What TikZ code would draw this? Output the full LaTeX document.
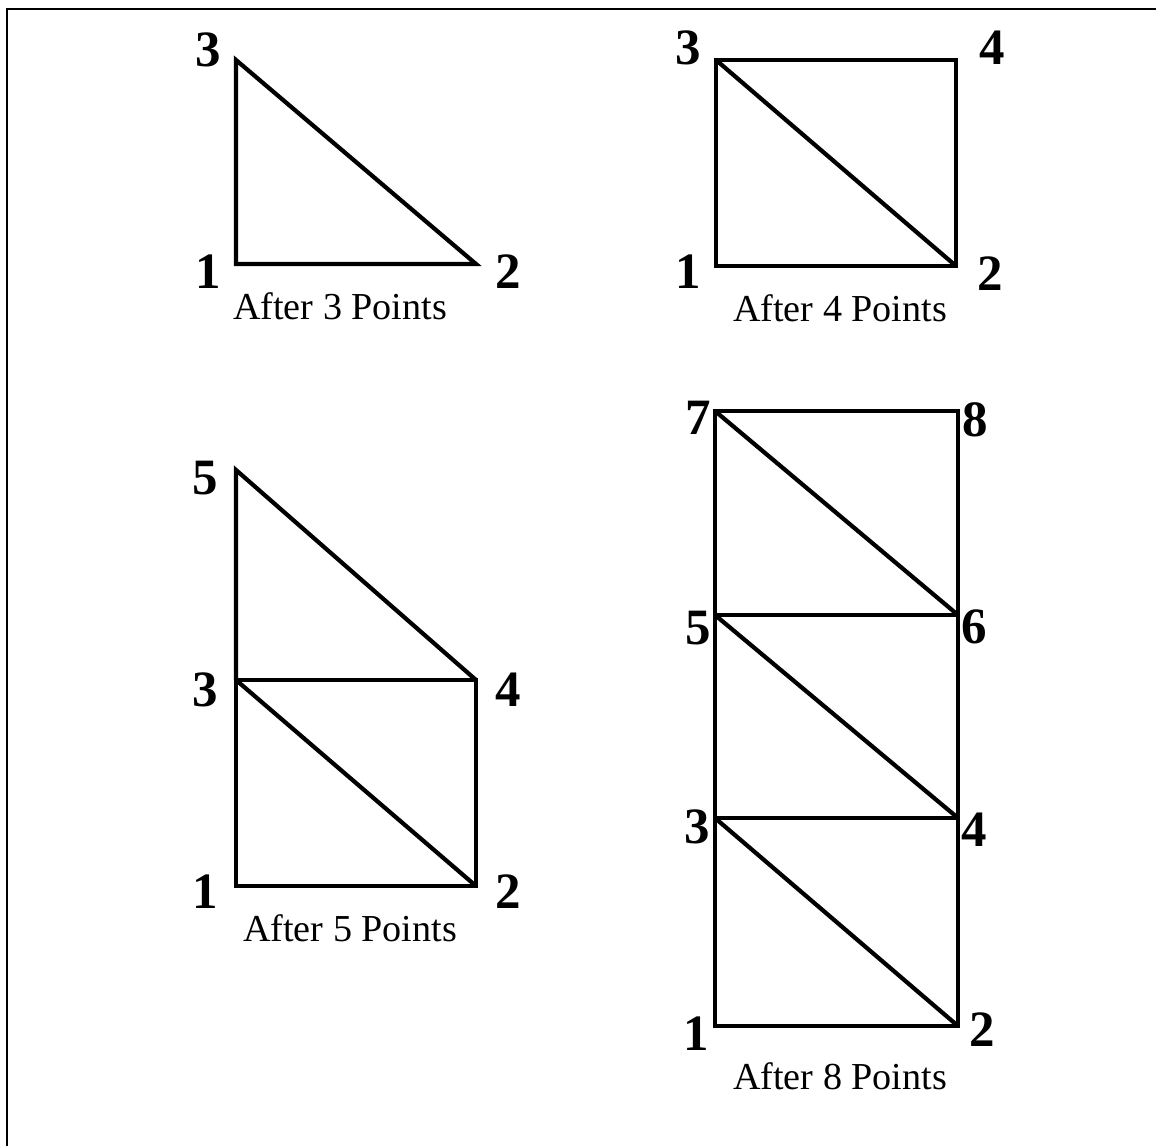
\documentclass[tikz,border=0pt]{standalone}
\usepackage{fontspec}
\setmainfont{Liberation Serif}
\usetikzlibrary{positioning}

\tikzset{
  edge/.style={line width=2.4pt, line join=miter},
  num/.style={font=\fontsize{29}{29}\selectfont\bfseries, inner sep=1pt},
  caption/.style={font=\fontsize{21.7}{22}\selectfont, inner sep=1pt}
}

\begin{document}
\begin{tikzpicture}[x=0.02cm, y=-0.02cm]
  \useasboundingbox (0,0) rectangle (1156,1146);
  % frame
  \coordinate (fl) at (7,1146);
  \coordinate (fc) at (7,9);
  \coordinate (fr) at (1156,9);
  \draw[line width=1.3pt] (fl) -- (fc) -- (fr);

  % after 3 points
  \coordinate (a1) at (236,264);
  \coordinate (a2) at (476,264);
  \coordinate (a3) at (236,60);
  \draw[edge] (a1) -- (a2) -- (a3) -- cycle;
  \node[num] (la1) at (208,272) {1};
  \node[num] (la2) at (508,272) {2};
  \node[num] (la3) at (208,50) {3};
  \node[caption] (ca) at (340,306) {After 3 Points};

  % after 4 points
  \coordinate (b1) at (716,266);
  \coordinate (b2) at (956,266);
  \coordinate (b3) at (716,60);
  \coordinate (b4) at (956,60);
  \draw[edge] (b1) -- (b2) -- (b4) -- (b3) -- cycle;
  \draw[edge] (b3) -- (b2);
  \node[num] (lb1) at (688,272) {1};
  \node[num] (lb2) at (990,274) {2};
  \node[num] (lb3) at (688,48) {3};
  \node[num] (lb4) at (992,48) {4};
  \node[caption] (cb) at (840,308) {After 4 Points};

  % after 5 points
  \coordinate (c1) at (236,886);
  \coordinate (c2) at (476,886);
  \coordinate (c3) at (236,680);
  \coordinate (c4) at (476,680);
  \coordinate (c5) at (236,470);
  \draw[edge] (c1) -- (c2) -- (c4) -- (c3) -- cycle;
  \draw[edge] (c3) -- (c2);
  \draw[edge] (c3) -- (c5) -- (c4);
  \node[num] (lc1) at (205,892) {1};
  \node[num] (lc2) at (508,892) {2};
  \node[num] (lc3) at (205,690) {3};
  \node[num] (lc4) at (508,690) {4};
  \node[num] (lc5) at (205,478) {5};
  \node[caption] (cc) at (350,928) {After 5 Points};

  % after 8 points
  \coordinate (d1) at (715,1026);
  \coordinate (d2) at (958,1026);
  \coordinate (d3) at (715,818);
  \coordinate (d4) at (958,818);
  \coordinate (d5) at (715,615);
  \coordinate (d6) at (958,615);
  \coordinate (d7) at (715,411);
  \coordinate (d8) at (958,411);
  \draw[edge] (d1) -- (d2) -- (d8) -- (d7) -- cycle;
  \draw[edge] (d3) -- (d4);
  \draw[edge] (d5) -- (d6);
  \draw[edge] (d3) -- (d2);
  \draw[edge] (d5) -- (d4);
  \draw[edge] (d7) -- (d6);
  \node[num] (ld1) at (696,1034) {1};
  \node[num] (ld2) at (982,1030) {2};
  \node[num] (ld3) at (697,827) {3};
  \node[num] (ld4) at (974,830) {4};
  \node[num] (ld5) at (698,628) {5};
  \node[num] (ld6) at (974,627) {6};
  \node[num] (ld7) at (698,418) {7};
  \node[num] (ld8) at (975,420) {8};
  \node[caption] (cd) at (840,1076) {After 8 Points};
\end{tikzpicture}
\end{document}
